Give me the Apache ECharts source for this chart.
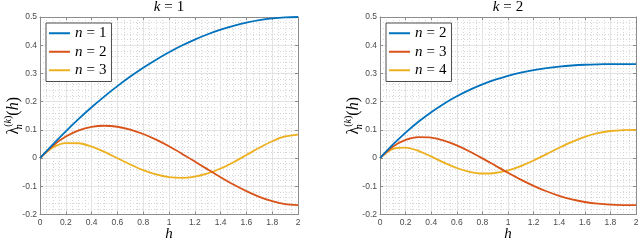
<!DOCTYPE html>
<html><head><meta charset="utf-8">
<script src="https://cdn.jsdelivr.net/npm/echarts@6/dist/echarts.min.js"></script>
<style>html,body{margin:0;padding:0;background:#fff}#c{width:640px;height:242px}</style>
</head><body><div id="c"></div>
<script>
// sample positions h
const hValues = [0,0.1,0.2,0.3,0.4,0.5,0.6,0.7,0.8,0.9,1,1.1,1.2,1.3,1.4,1.5,1.6,1.7,1.8,1.9,2];
// k = 1 panel
const k1n1 = [0,0.0488,0.095,0.1388,0.18,0.2188,0.255,0.2888,0.32,0.3488,0.375,0.3988,0.42,0.4388,0.455,0.4688,0.48,0.4888,0.495,0.4988,0.5];
const k1n2 = [0,0.0439,0.0763,0.0983,0.1107,0.1146,0.111,0.1009,0.0853,0.0653,0.0417,0.0156,-0.012,-0.0401,-0.0677,-0.0938,-0.1173,-0.1374,-0.153,-0.1631,-0.1667];
const k1n3 = [0,0.0373,0.053,0.0525,0.0407,0.0218,-0.0004,-0.0227,-0.0427,-0.0581,-0.0677,-0.0704,-0.066,-0.0546,-0.037,-0.0146,0.0107,0.0364,0.0596,0.0766,0.0833];
// k = 2 panel
const k2n2 = [0,0.0475,0.0903,0.1286,0.1627,0.1927,0.219,0.2418,0.2613,0.2779,0.2917,0.303,0.312,0.319,0.3243,0.3281,0.3307,0.3322,0.333,0.3333,0.3333];
const k2n3 = [0,0.0405,0.0642,0.0739,0.0723,0.0618,0.0448,0.0233,-0.0011,-0.0266,-0.0521,-0.0763,-0.0984,-0.1177,-0.1338,-0.1465,-0.1557,-0.1618,-0.1652,-0.1665,-0.1667];
const k2n4 = [0,0.0323,0.0373,0.0257,0.0058,-0.016,-0.0351,-0.0486,-0.0547,-0.0529,-0.0438,-0.0284,-0.0085,0.0138,0.0364,0.0574,0.075,0.088,0.096,0.0994,0.1];
// ticks
const xTicks = [0,0.2,0.4,0.6,0.8,1,1.2,1.4,1.6,1.8,2];
const yTicks = [-0.2,-0.1,0,0.1,0.2,0.3,0.4,0.5];
// labels
const panelK = [1, 2];
const panelN = [[1,2,3],[2,3,4]];
const panelData = [[k1n1,k1n2,k1n3],[k2n2,k2n3,k2n4]];

const colors = ['#0072BD','#D95319','#EDB120'];
const serif = 'Liberation Serif';
const mathRich = {
  i: {fontFamily: serif, fontStyle: 'italic', fontSize: 15, color: '#000', lineHeight: 16.5},
  r: {fontFamily: serif, fontSize: 15, color: '#000', lineHeight: 16.5},
  e: {fontFamily: serif, fontSize: 15, color: '#000', lineHeight: 16.5, padding: [0, 4, 0, 4]},
  yl: {fontFamily: serif, fontStyle: 'italic', fontSize: 16, color: '#000', lineHeight: 22},
  yr: {fontFamily: serif, fontSize: 16, color: '#000', lineHeight: 22},
  sub: {fontFamily: serif, fontStyle: 'italic', fontSize: 10, color: '#000', verticalAlign: 'bottom', lineHeight: 11, width: 0, padding: [0, 0, 1, 0]},
  sup: {fontFamily: serif, fontSize: 10, color: '#000', verticalAlign: 'top', lineHeight: 11},
  ki: {fontFamily: serif, fontStyle: 'italic', fontSize: 10, color: '#000', verticalAlign: 'top', lineHeight: 11}
};
const grids = [
  {left: 40, top: 17, width: 258, height: 197.5, outerBoundsMode: 'none', containLabel: false},
  {left: 380, top: 17, width: 256, height: 197.5, outerBoundsMode: 'none', containLabel: false}
];
const axisColor = '#8c8c8c';
const labelStyle = {fontFamily: 'Liberation Sans', fontSize: 8.5, color: '#4a4a4a'};
const xStep = xTicks[1] - xTicks[0];
const yStep = +(yTicks[1] - yTicks[0]).toFixed(6);

const xAxes = [], yAxes = [], series = [], legends = [];
grids.forEach((g, gi) => {
  const base = {
    type: 'value', gridIndex: gi,
    min: xTicks[0], max: xTicks[xTicks.length - 1], interval: xStep,
    axisLine: {show: true, onZero: false, lineStyle: {color: axisColor, width: 1}},
    axisTick: {show: true, inside: true, length: 3, lineStyle: {color: axisColor}}
  };
  xAxes.push(Object.assign({}, base, {
    position: 'bottom',
    name: '{i|h}', nameLocation: 'middle', nameGap: 11, nameMoveOverlap: false,
    nameTextStyle: {rich: mathRich},
    axisLabel: Object.assign({margin: 4, hideOverlap: false}, labelStyle),
    splitLine: {show: true, lineStyle: {color: '#e3e3e3', width: 1}},
    minorTick: {show: false, splitNumber: 4},
    minorSplitLine: {show: true, lineStyle: {color: '#d6d6d6', width: 1, type: [1, 2]}}
  }));
  xAxes.push(Object.assign({}, base, {
    position: 'top',
    name: '{i|k}{e|=}{r|' + panelK[gi] + '}', nameLocation: 'middle', nameGap: 2, nameMoveOverlap: false,
    nameTextStyle: {rich: mathRich},
    axisLabel: {show: false}, splitLine: {show: false}
  }));
  const ybase = {
    type: 'value', gridIndex: gi,
    min: yTicks[0], max: yTicks[yTicks.length - 1], interval: yStep,
    axisLine: {show: true, onZero: false, lineStyle: {color: axisColor, width: 1}},
    axisTick: {show: true, inside: true, length: 3, lineStyle: {color: axisColor}}
  };
  yAxes.push(Object.assign({}, ybase, {
    position: 'left',
    name: '{yr|λ}{sub|n}{sup|(}{ki|k}{sup|)}{yr|(}{yl|h}{yr|)}', nameLocation: 'middle', nameGap: 15, nameMoveOverlap: false,
    nameTextStyle: {rich: mathRich},
    axisLabel: Object.assign({margin: 3}, labelStyle),
    splitLine: {show: true, lineStyle: {color: '#e3e3e3', width: 1}},
    minorTick: {show: false, splitNumber: 5},
    minorSplitLine: {show: true, lineStyle: {color: '#d6d6d6', width: 1, type: [1, 2]}}
  }));
  yAxes.push(Object.assign({}, ybase, {
    position: 'right', axisLabel: {show: false}, splitLine: {show: false}
  }));
  const names = [];
  panelN[gi].forEach((n, si) => {
    const nm = (gi === 0 ? 'L' : 'R') + n;
    names.push(nm);
    series.push({
      type: 'line', name: nm, xAxisIndex: gi * 2, yAxisIndex: gi * 2,
      data: hValues.map((h, i) => [h, panelData[gi][si][i]]),
      smooth: 0.3, showSymbol: false, symbol: 'none',
      lineStyle: {color: colors[si], width: 1.8}, itemStyle: {color: colors[si]},
      z: 3 - si
    });
  });
  legends.push({
    data: names, orient: 'vertical', left: g.left + 6, top: 23,
    icon: 'rect', itemWidth: 21, itemHeight: 2, itemGap: 2,
    padding: [2, 5, 3, 3], borderColor: '#4d4d4d', borderWidth: 1, backgroundColor: '#fff',
    selectedMode: false,
    formatter: name => '{i|n}{e|=}{r|' + name.slice(1) + '}',
    textStyle: {rich: mathRich, fontSize: 15, lineHeight: 16.5}
  });
});

const chart = echarts.init(document.getElementById('c'), null, {renderer: 'canvas'});
chart.setOption({
  animation: false,
  backgroundColor: '#fff',
  grid: grids,
  xAxis: xAxes,
  yAxis: yAxes,
  legend: legends,
  series: series
});
</script></body></html>
